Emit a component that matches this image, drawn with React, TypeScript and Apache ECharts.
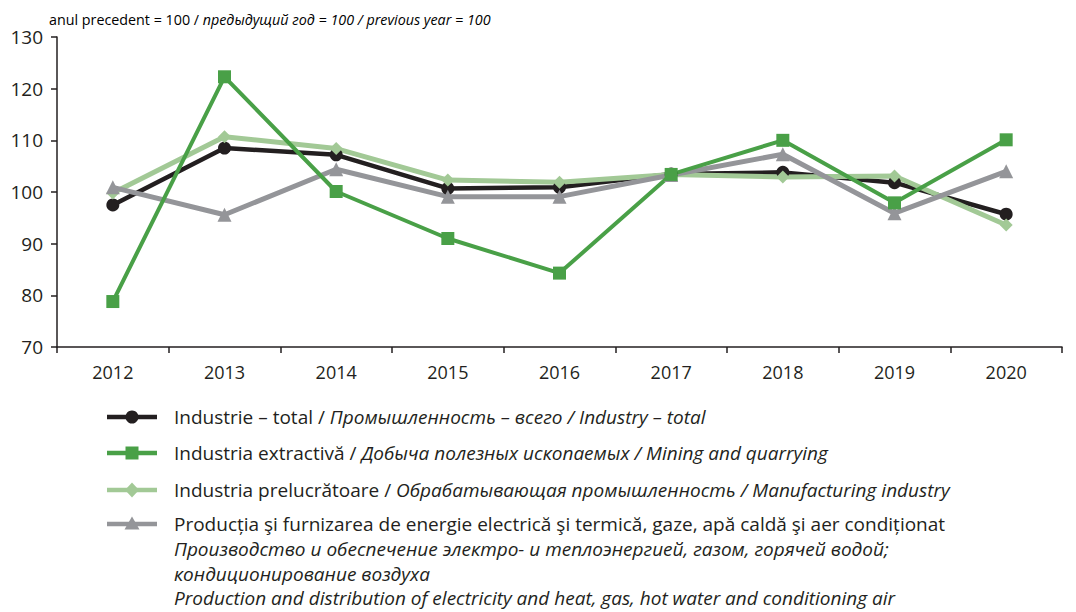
import React, { useEffect, useRef } from "react";
import * as echarts from "echarts";

const years = ["2012", "2013", "2014", "2015", "2016", "2017", "2018", "2019", "2020"];
const total = [97.5, 108.5, 107.2, 100.7, 100.9, 103.5, 103.8, 101.8, 95.7];
const mining = [78.8, 122.3, 100.1, 91.0, 84.3, 103.4, 110.0, 97.9, 110.1];
const manufacturing = [99.8, 110.7, 108.4, 102.3, 101.9, 103.4, 102.9, 103.1, 93.6];
const energy = [100.9, 95.6, 104.4, 99.1, 99.1, 103.3, 107.3, 95.9, 104.0];

const C_BLACK = "#231f20";
const C_GREEN = "#49a047";
const C_LGREEN = "#a2c996";
const C_GRAY = "#949599";

const FONT = "'Open Sans', 'Noto Sans', sans-serif";

export default function App() {
  const ref = useRef<HTMLDivElement>(null);
  useEffect(() => {
    if (!ref.current) return;
    const chart = echarts.init(ref.current, undefined, { renderer: "svg" });
    const lx0 = 107, lx1 = 157, tx = 174;
    const legendRows = [417, 453, 490, 524];
    const rich = {
      n: { fontFamily: FONT, fontSize: 19, color: "#231f20" },
      i: { fontFamily: FONT, fontSize: 19, fontStyle: "italic", color: "#231f20" },
    };
    const legendTexts = [
      "{n|Industrie – total / }{i|Промышленность – всего / Industry – total}",
      "{n|Industria extractivă / }{i|Добыча полезных ископаемых / Mining and quarrying}",
      "{n|Industria prelucrătoare / }{i|Обрабатывающая промышленность / Manufacturing industry}",
      "{n|Producția şi furnizarea de energie electrică şi termică, gaze, apă caldă şi aer condiționat}",
    ];
    const extraLines = [
      { y: 549, t: "{i|Производство и обеспечение электро- и теплоэнергией, газом, горячей водой;}" },
      { y: 574, t: "{i|кондиционирование воздуха}" },
      { y: 598, t: "{i|Production and distribution of electricity and heat, gas, hot water and conditioning air}" },
    ];
    const colors = [C_BLACK, C_GREEN, C_LGREEN, C_GRAY];
    const graphics: any[] = [];
    legendRows.forEach((y, k) => {
      graphics.push({
        type: "line",
        shape: { x1: lx0, y1: y, x2: lx1, y2: y },
        style: { stroke: colors[k], lineWidth: 4.5 },
      });
      const cx = (lx0 + lx1) / 2;
      if (k === 0) graphics.push({ type: "circle", shape: { cx, cy: y, r: 6.5 }, style: { fill: colors[k] } });
      if (k === 1) graphics.push({ type: "rect", shape: { x: cx - 6.5, y: y - 6.5, width: 13, height: 13 }, style: { fill: colors[k] } });
      if (k === 2) graphics.push({ type: "polygon", shape: { points: [[cx, y - 7.5], [cx + 7, y], [cx, y + 7.5], [cx - 7, y]] }, style: { fill: colors[k] } });
      if (k === 3) graphics.push({ type: "polygon", shape: { points: [[cx, y - 7.5], [cx + 7.5, y + 5.5], [cx - 7.5, y + 5.5]] }, style: { fill: colors[k] } });
      graphics.push({
        type: "text",
        x: tx,
        y,
        style: { text: legendTexts[k], rich, lineHeight: 20, verticalAlign: "middle", fill: "#231f20" },
      });
    });
    extraLines.forEach((l) => {
      graphics.push({
        type: "text",
        x: tx,
        y: l.y,
        style: { text: l.t, rich, lineHeight: 19, verticalAlign: "middle", fill: "#231f20" },
      });
    });
    graphics.push({
      type: "text",
      x: 49,
      y: 12,
      style: {
        text: "{n|anul precedent = 100 / }{i|предыдущий год = 100 / previous year = 100}",
        rich: {
          n: { fontFamily: FONT, fontSize: 14.3, color: "#231f20" },
          i: { fontFamily: FONT, fontSize: 14.3, fontStyle: "italic", color: "#231f20" },
        },
      },
    });

    const mk = (name: string, data: number[], color: string, symbol: string, size: number, width: number) => ({
      name,
      type: "line",
      data,
      symbol,
      symbolSize: size,
      showAllSymbol: true,
      lineStyle: { color, width },
      itemStyle: { color },
      emphasis: { disabled: true },
    });

    chart.setOption({
      animation: false,
      grid: { left: 57, right: 14, top: 37, bottom: 265, containLabel: false },
      xAxis: {
        type: "category",
        data: years,
        boundaryGap: true,
        axisLine: { lineStyle: { color: C_BLACK, width: 1.5 } },
        axisTick: { show: true, length: 6, lineStyle: { color: C_BLACK, width: 1.5 } },
        axisLabel: { color: "#231f20", fontSize: 18, fontFamily: FONT, margin: 16 },
        splitLine: { show: false },
      },
      yAxis: {
        type: "value",
        min: 70,
        max: 130,
        interval: 10,
        axisLine: { show: true, lineStyle: { color: C_BLACK, width: 1.5 } },
        axisTick: { show: true, length: 6, lineStyle: { color: C_BLACK, width: 1.5 } },
        axisLabel: { color: "#231f20", fontSize: 19, fontFamily: FONT, margin: 14 },
        splitLine: { show: false },
      },
      series: [
        mk("total", total, C_BLACK, "circle", 13, 4.5),
        mk("manufacturing", manufacturing, C_LGREEN, "diamond", 13, 5),
        mk("energy", energy, C_GRAY, "triangle", 14, 5),
        mk("mining", mining, C_GREEN, "rect", 13, 4),
      ],
      graphic: graphics,
    });
    return () => chart.dispose();
  }, []);
  return <div ref={ref} style={{ position: "fixed", left: 0, top: 0, width: 1076, height: 612, background: "#fff" }} />;
}
